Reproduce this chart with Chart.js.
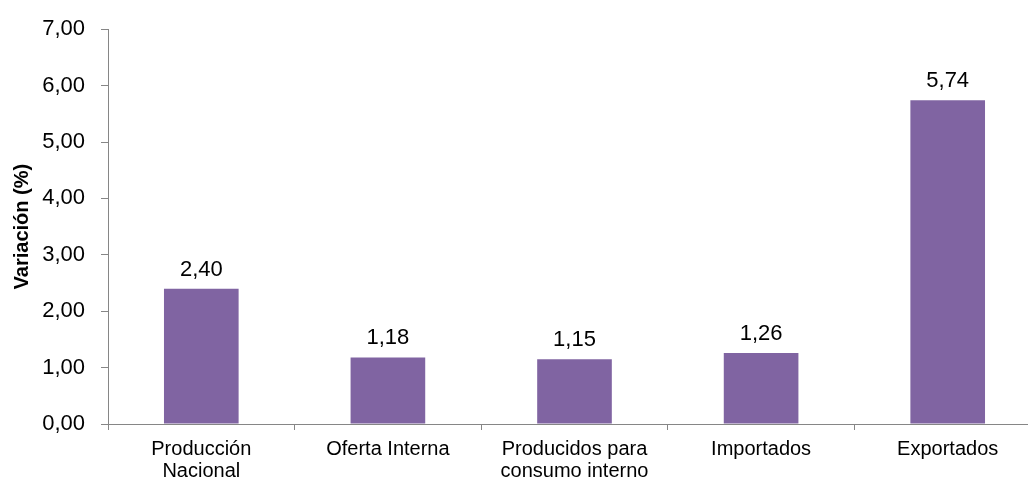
<!DOCTYPE html>
<html>
<head>
<meta charset="utf-8">
<script src="https://cdn.jsdelivr.net/npm/chart.js@4/dist/chart.umd.min.js"></script>
<style>
  html, body { margin: 0; padding: 0; background: #fff; overflow: hidden; }
  #wrap { position: absolute; left: 0; top: 0; width: 1041px; height: 481px; }
</style>
</head>
<body>
<div id="wrap"><canvas id="chart"></canvas></div>
<script>
var categories = [['Producción', 'Nacional'], 'Oferta Interna', ['Producidos para', 'consumo interno'], 'Importados', 'Exportados'];
var values = [2.40, 1.18, 1.15, 1.26, 5.74];
var yTicks = [0, 1, 2, 3, 4, 5, 6, 7];
var yTitle = 'Variación (%)';

var axisColor = '#868686';
var fontFamily = '"Liberation Sans", Arial, sans-serif';

function fmt(v) {
    return v.toFixed(2).replace('.', ',');
}

// draw the value over each bar
var barLabels = {
    id: 'barLabels',
    afterDatasetsDraw: function(chart) {
        var ctx = chart.ctx;
        var meta = chart.getDatasetMeta(0);
        ctx.save();
        ctx.font = '22px ' + fontFamily;
        ctx.fillStyle = '#000';
        ctx.textAlign = 'center';
        ctx.textBaseline = 'alphabetic';
        meta.data.forEach(function(bar, i) {
            ctx.fillText(fmt(values[i]), bar.x, bar.y - 13);
        });
        ctx.restore();
    }
};

new Chart(document.getElementById('chart').getContext('2d'), {
    type: 'bar',
    data: {
        labels: categories,
        datasets: [{
            data: values,
            backgroundColor: '#8064A2',
            borderWidth: 0,
            barPercentage: 0.8,
            categoryPercentage: 0.5
        }]
    },
    options: {
        responsive: true,
        maintainAspectRatio: false,
        animation: false,
        events: [],
        layout: { padding: { top: 28, left: 0, right: 0, bottom: 0 } },
        plugins: {
            legend: { display: false },
            tooltip: { enabled: false }
        },
        scales: {
            x: {
                grid: {
                    offset: true,
                    drawOnChartArea: false,
                    drawTicks: true,
                    tickLength: 6,
                    color: axisColor
                },
                border: { color: axisColor, width: 1 },
                ticks: {
                    color: '#000',
                    padding: 8,
                    maxRotation: 0,
                    autoSkip: false,
                    font: { family: fontFamily, size: 20, lineHeight: 1.1 }
                },
                afterFit: function(scale) { scale.height = 57; }
            },
            y: {
                min: 0,
                max: 7,
                afterBuildTicks: function(scale) {
                    scale.ticks = yTicks.map(function(v) { return { value: v }; });
                },
                grid: {
                    drawOnChartArea: false,
                    drawTicks: true,
                    tickLength: 7,
                    color: axisColor
                },
                border: { color: axisColor, width: 1 },
                ticks: {
                    color: '#000',
                    padding: 16,
                    font: { family: fontFamily, size: 22 },
                    callback: function(v) { return fmt(v); }
                },
                title: {
                    display: true,
                    text: yTitle,
                    color: '#000',
                    padding: { top: 10, bottom: 0 },
                    font: { family: fontFamily, size: 20, weight: 'bold', lineHeight: 1.2 }
                },
                afterFit: function(scale) { scale.width = 108; }
            }
        }
    },
    plugins: [barLabels]
});
</script>
</body>
</html>
